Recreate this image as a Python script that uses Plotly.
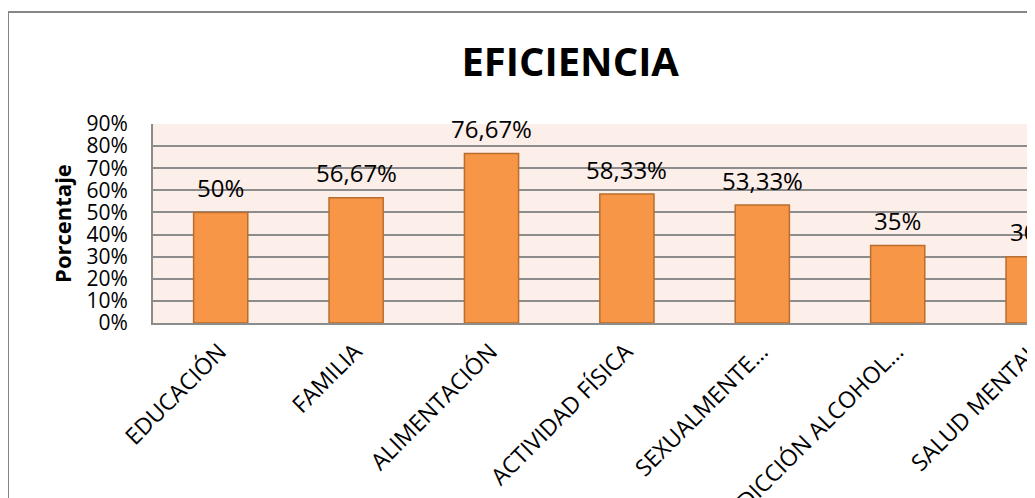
import plotly.graph_objects as go

categories = ['EDUCACIÓN', 'FAMILIA', 'ALIMENTACIÓN', 'ACTIVIDAD FÍSICA',
              'SEXUALMENTE…', 'ADICCIÓN ALCOHOL…', 'SALUD MENTAL']
values = [0.50, 0.5667, 0.7667, 0.5833, 0.5333, 0.35, 0.30]
y_ticks = [0, 0.1, 0.2, 0.3, 0.4, 0.5, 0.6, 0.7, 0.8, 0.9]

FONT = 'Open Sans'
GRID = '#8C8C8C'


def pct_label(v):
    s = f'{v * 100:.2f}'.rstrip('0').rstrip('.')
    return s.replace('.', ',') + '%'


fig = go.Figure()
fig.add_trace(go.Bar(
    x=categories,
    y=values,
    width=0.4,
    marker=dict(color='#F79646', line=dict(color='#B96D2E', width=1.5)),
    hoverinfo='skip'
))

# data labels above the bars
for cat, val in zip(categories, values):
    fig.add_annotation(
        x=cat, y=val, text=pct_label(val), showarrow=False,
        yanchor='middle', yshift=25,
        font=dict(family=FONT, size=24, color='#000000')
    )

# outer chart-area border (chart is cropped on the right and bottom)
fig.add_shape(type='line', xref='paper', yref='paper',
              x0=-0.1644, x1=-0.1644, y0=-0.95, y1=1.5628,
              line=dict(color='#868686', width=2))
fig.add_shape(type='line', xref='paper', yref='paper',
              x0=-0.1644, x1=1.05, y0=1.5628, y1=1.5628,
              line=dict(color='#868686', width=2))

fig.update_layout(
    width=1027,
    height=490,
    margin=dict(l=145, r=0, t=116, b=175),
    paper_bgcolor='white',
    plot_bgcolor='#FCEEE9',
    showlegend=False,
    title=dict(
        text='<b>EFICIENCIA</b>',
        font=dict(family=FONT, size=40, color='#000000'),
        x=0.473, xref='paper', xanchor='center',
        y=0.89, yref='container', yanchor='middle'
    ),
    xaxis=dict(
        range=[-0.5, 6.014],
        automargin=False,
        tickangle=-45,
        tickfont=dict(family=FONT, size=23, color='#000000'),
        showline=True, linecolor=GRID, linewidth=2,
        showgrid=False, ticks='', ticklabelstandoff=4, ticklabelshift=-1
    ),
    yaxis=dict(
        range=[0, 0.9],
        automargin=False,
        tickvals=y_ticks,
        tickformat='.0%',
        tickfont=dict(family=FONT, size=21, color='#000000'),
        showgrid=True, gridcolor=GRID, gridwidth=1.5,
        showline=True, linecolor=GRID, linewidth=2,
        zeroline=False, ticks='', ticklabelstandoff=19,
        title=dict(text='<b>Porcentaje</b>', standoff=9,
                   font=dict(family=FONT, size=22, color='#000000'))
    )
)

fig.write_html('out.html')
